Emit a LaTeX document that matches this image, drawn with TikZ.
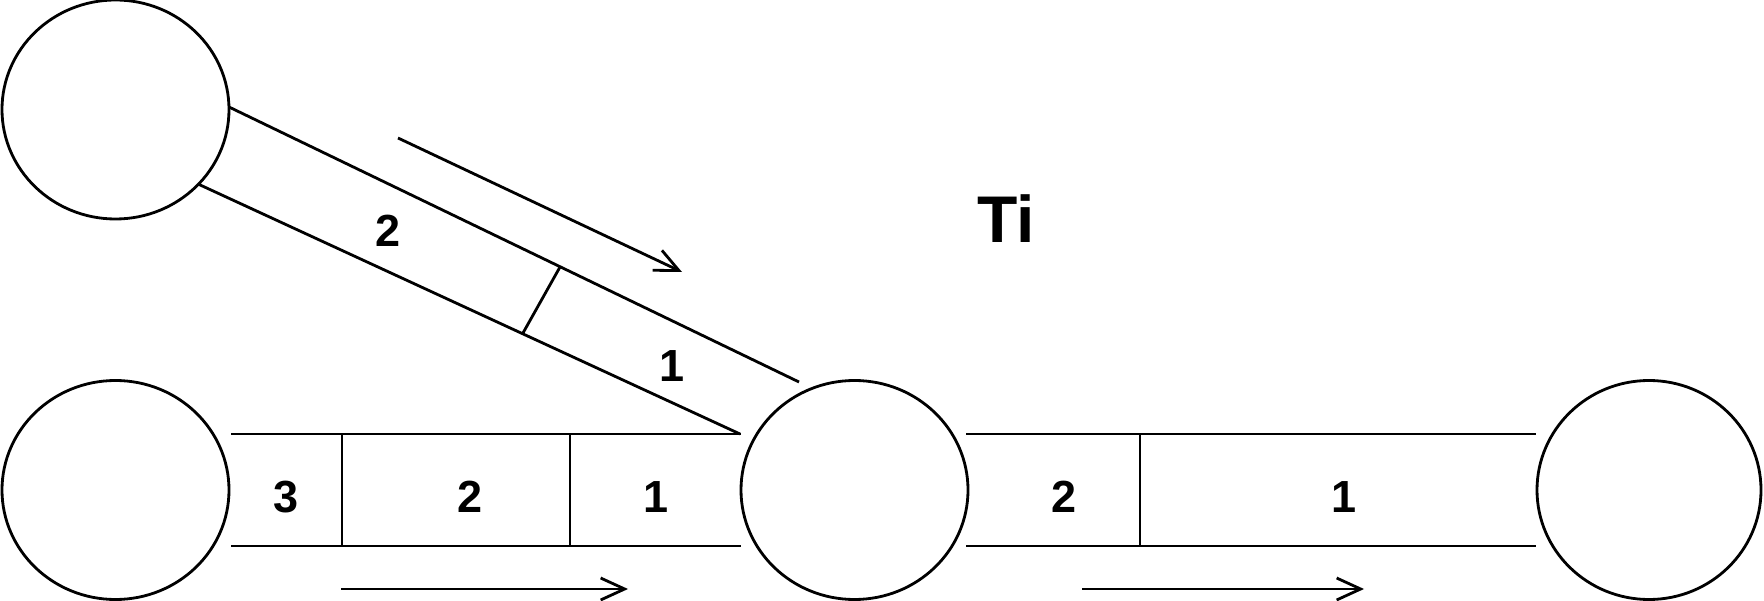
\documentclass[tikz,border=0pt]{standalone}
\usepackage{fontspec}
\setmainfont{Liberation Sans}
\usetikzlibrary{shapes.geometric,arrows.meta}
\begin{document}
\begin{tikzpicture}[x=1pt,y=-1pt,
  line width=2.8pt,
  station/.style={draw,ellipse,minimum width=227pt,minimum height=219pt,inner sep=0pt},
  lbl/.style={inner sep=0pt,font=\fontsize{45}{50}\selectfont\bfseries},
  flow/.style={-{Straight Barb[length=24pt,width=22pt]}},
]
\useasboundingbox (0,0) rectangle (1764,601);
% stations
\node[station] (A) at (115.5,109.5) {};
\node[station] (L) at (115.5,490) {};
\node[station] (M) at (854.5,490) {};
\node[station,minimum width=224pt] (R) at (1649,490) {};
% diagonal band A -> M
\coordinate (a1) at (229,107);
\coordinate (a2) at (799,382);
\coordinate (b1) at (198,184);
\coordinate (b2) at (740,434);
\coordinate (d1) at (560,267);
\coordinate (d2) at (523,333);
\draw (a1) -- (a2);
\draw (b1) -- (b2);
\draw (d1) -- (d2);
% bottom band L -> M
\coordinate (l1) at (231,434);
\coordinate (l2) at (741,434);
\coordinate (l3) at (231,546);
\coordinate (l4) at (741,546);
\coordinate (ld1t) at (342,434);
\coordinate (ld1b) at (342,546);
\coordinate (ld2t) at (570,434);
\coordinate (ld2b) at (570,546);
\draw (l1) -- (l2);
\draw (l3) -- (l4);
\draw (ld1t) -- (ld1b);
\draw (ld2t) -- (ld2b);
% bottom band M -> R
\coordinate (r1) at (966,434);
\coordinate (r2) at (1536,434);
\coordinate (r3) at (966,546);
\coordinate (r4) at (1536,546);
\coordinate (rdt) at (1140,434);
\coordinate (rdb) at (1140,546);
\draw (r1) -- (r2);
\draw (r3) -- (r4);
\draw (rdt) -- (rdb);
% labels
\node[lbl] (n3) at (286,497) {3};
\node[lbl] (n2) at (470,497) {2};
\node[lbl] (n1) at (656,497) {1};
\node[lbl] (m2) at (1064,497) {2};
\node[lbl] (m1) at (1344,497) {1};
\node[lbl] (t2) at (388,231) {2};
\node[lbl] (t1) at (672,366) {1};
\node[inner sep=0pt,font=\fontsize{66}{70}\selectfont\bfseries] (ti) at (1006,219) {Ti};
% flow arrows
\coordinate (f1s) at (398,138);
\coordinate (f1e) at (682,272);
\coordinate (f2s) at (341,589);
\coordinate (f2e) at (628,589);
\coordinate (f3s) at (1082,589);
\coordinate (f3e) at (1364,589);
\draw[flow] (f1s) -- (f1e);
\draw[flow] (f2s) -- (f2e);
\draw[flow] (f3s) -- (f3e);
\end{tikzpicture}
\end{document}
